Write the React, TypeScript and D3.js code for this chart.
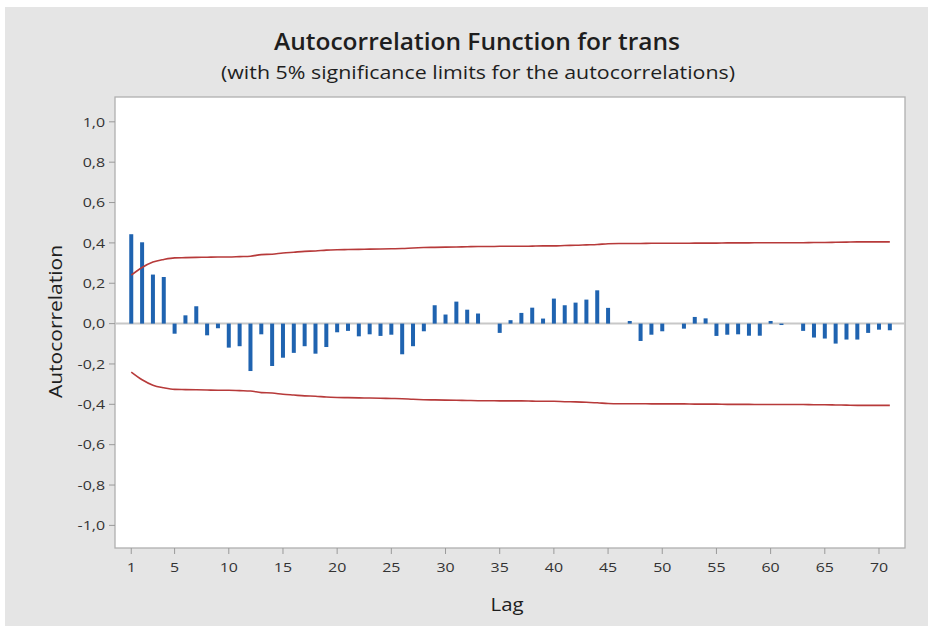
import React from "react";
import * as d3 from "d3";

const lags: number[] = d3.range(1, 72);
const acf: number[] = [
  0.443, 0.403, 0.243, 0.231, -0.05, 0.041, 0.086, -0.058, -0.023, -0.119,
  -0.112, -0.235, -0.053, -0.21, -0.169, -0.145, -0.112, -0.149, -0.116, -0.043,
  -0.036, -0.063, -0.053, -0.061, -0.055, -0.152, -0.112, -0.038, 0.091, 0.045,
  0.109, 0.069, 0.05, 0.0, -0.046, 0.017, 0.053, 0.079, 0.025, 0.124,
  0.091, 0.104, 0.119, 0.165, 0.078, 0.0, 0.013, -0.086, -0.055, -0.038,
  0.0, -0.025, 0.033, 0.026, -0.061, -0.055, -0.053, -0.06, -0.06, 0.013,
  -0.007, 0.0, -0.036, -0.069, -0.074, -0.099, -0.079, -0.079, -0.046, -0.03,
  -0.033,
];
const upperLimit: number[] = [
  0.24, 0.278, 0.305, 0.318, 0.326, 0.327, 0.328, 0.329, 0.33, 0.33,
  0.332, 0.334, 0.342, 0.344, 0.35, 0.354, 0.358, 0.36, 0.364, 0.366,
  0.367, 0.368, 0.369, 0.37, 0.371, 0.372, 0.375, 0.377, 0.378, 0.379,
  0.38, 0.381, 0.382, 0.382, 0.383, 0.383, 0.383, 0.384, 0.385, 0.385,
  0.387, 0.388, 0.39, 0.392, 0.396, 0.397, 0.397, 0.397, 0.398, 0.398,
  0.398, 0.398, 0.399, 0.399, 0.399, 0.4, 0.4, 0.4, 0.401, 0.401,
  0.401, 0.401, 0.401, 0.402, 0.402, 0.403, 0.404, 0.405, 0.405, 0.405,
  0.405,
];
const xTicks: number[] = [1, 5, 10, 15, 20, 25, 30, 35, 40, 45, 50, 55, 60, 65, 70];
const yTicks: number[] = [1, 0.8, 0.6, 0.4, 0.2, 0, -0.2, -0.4, -0.6, -0.8, -1];

const W = 934;
const H = 631;
const box = { left: 115, right: 905, top: 97, bottom: 548 };
const FONT = "'Open Sans', 'Noto Sans', sans-serif";
const SX = 1.18;

export default function App() {
  const x = d3.scaleLinear().domain([-0.5, 72.4]).range([box.left, box.right]);
  const y = d3.scaleLinear().domain([-1.112, 1.123]).range([box.bottom, box.top]);
  const fmt = (v: number) => d3.format(".1f")(v).replace(".", ",").replace("−", "-");

  const upperLine = d3
    .line<number>()
    .x((_, i) => x(lags[i]))
    .y((d) => y(d))
    .curve(d3.curveMonotoneX)(upperLimit) as string;
  const lowerLine = d3
    .line<number>()
    .x((_, i) => x(lags[i]))
    .y((d) => y(-d))
    .curve(d3.curveMonotoneX)(upperLimit) as string;

  return (
    <svg
      width={W}
      height={H}
      style={{ position: "absolute", left: 0, top: 0, display: "block" }}
      fontFamily={FONT}
    >
      <rect x={0} y={0} width={W} height={H} fill="#ffffff" />
      <rect x={5} y={7} width={923} height={619} fill="#e5e5e5" />
      <rect
        x={box.left}
        y={box.top}
        width={box.right - box.left}
        height={box.bottom - box.top}
        fill="#ffffff"
        stroke="#b0b0b0"
        strokeWidth={1.3}
      />
      <text
        x={477}
        y={50}
        textAnchor="middle"
        fontSize={23}
        fontWeight={600}
        fill="#1e1e1e"
        textLength={406}
        lengthAdjust="spacingAndGlyphs"
      >
        Autocorrelation Function for trans
      </text>
      <text
        x={478}
        y={79}
        textAnchor="middle"
        fontSize={18.5}
        fill="#1e1e1e"
        textLength={514}
        lengthAdjust="spacingAndGlyphs"
      >
        (with 5% significance limits for the autocorrelations)
      </text>

      {yTicks.map((t) => (
        <g key={"y" + t}>
          <line x1={box.left - 6} x2={box.left} y1={y(t)} y2={y(t)} stroke="#9a9a9a" />
          <text
            transform={`translate(${box.left - 10},${y(t)}) scale(${SX},1)`}
            dy="0.35em"
            textAnchor="end"
            fontSize={13.5}
            fill="#333"
          >
            {fmt(t)}
          </text>
        </g>
      ))}
      {xTicks.map((t) => (
        <g key={"x" + t}>
          <line x1={x(t)} x2={x(t)} y1={box.bottom} y2={box.bottom + 6} stroke="#9a9a9a" />
          <text
            transform={`translate(${x(t)},572) scale(${SX},1)`}
            textAnchor="middle"
            fontSize={13.5}
            fill="#333"
          >
            {t}
          </text>
        </g>
      ))}

      <line x1={box.left} x2={box.right} y1={y(0)} y2={y(0)} stroke="#c8c8c8" strokeWidth={2} />

      {acf.map((v, i) => (
        <rect
          key={"b" + i}
          x={x(lags[i]) - 2}
          width={4}
          y={Math.min(y(v), y(0))}
          height={Math.abs(y(v) - y(0))}
          fill="#1f63b0"
        />
      ))}

      <path d={upperLine} fill="none" stroke="#b73a3a" strokeWidth={1.6} />
      <path d={lowerLine} fill="none" stroke="#b73a3a" strokeWidth={1.6} />

      <text
        transform={`translate(62,${321.5}) rotate(-90)`}
        textAnchor="middle"
        fontSize={19}
        fill="#1e1e1e"
        textLength={153}
        lengthAdjust="spacingAndGlyphs"
      >
        Autocorrelation
      </text>
      <text
        x={507}
        y={611}
        textAnchor="middle"
        fontSize={19}
        fill="#1e1e1e"
        textLength={33}
        lengthAdjust="spacingAndGlyphs"
      >
        Lag
      </text>
    </svg>
  );
}
